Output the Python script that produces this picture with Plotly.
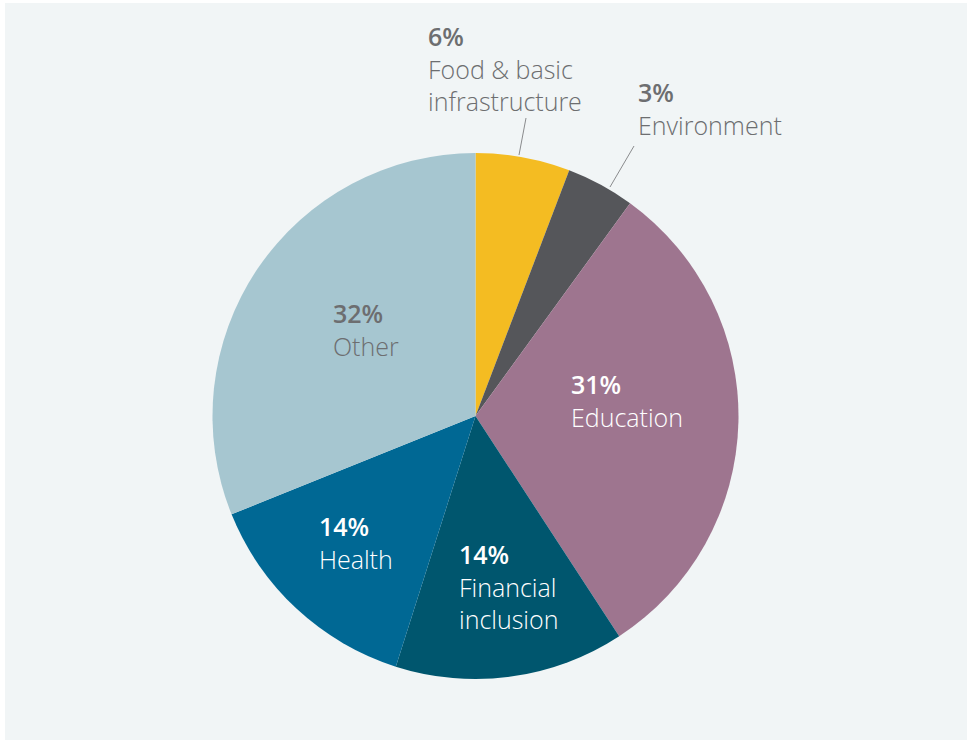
import plotly.graph_objects as go

categories = ["Food & basic<br>infrastructure", "Environment", "Education",
              "Financial<br>inclusion", "Health", "Other"]
# slice sizes
values = [5.8, 4.2, 30.8, 14.1, 14.0, 31.1]
# percentages as printed on the chart
pct_labels = ["6%", "3%", "31%", "14%", "14%", "32%"]
colors = ["#f4bc22", "#55565a", "#9e758f", "#00566e", "#006894", "#a6c6d0"]
text_colors = ["#6d6e70", "#6d6e70", "#ffffff", "#ffffff", "#ffffff", "#6d6e70"]

W, H = 967, 740
# label block anchors (left x, top y in px)
label_pos = [(426, 17), (636, 73), (569, 365), (457, 535), (317, 507), (331, 294)]

FONT = "Open Sans"

fig = go.Figure(go.Pie(
    labels=[c.replace("<br>", " ") for c in categories],
    values=values,
    sort=False,
    direction="clockwise",
    rotation=0,
    marker=dict(colors=colors, line=dict(width=0)),
    textinfo="none",
    hoverinfo="none",
    showlegend=False,
    domain=dict(x=[212 / W, 739 / W], y=[1 - 679 / H, 1 - 153 / H]),
))

annotations = []
for cat, pct, tc, (px, py) in zip(categories, pct_labels, text_colors, label_pos):
    annotations.append(dict(
        x=px / W, y=1 - py / H, xref="paper", yref="paper",
        xanchor="left", yanchor="top", align="left", showarrow=False,
        text=f"<span style='font-weight:600'>{pct}</span><br>{cat}",
        font=dict(family=FONT, size=25, color=tc, weight=300),
    ))

shapes = [
    dict(type="rect", xref="paper", yref="paper", x0=5 / W, x1=1, y0=0, y1=1 - 3 / H,
         fillcolor="#f1f5f6", line=dict(width=0), layer="below"),
    dict(type="line", xref="paper", yref="paper", x0=519 / W, y0=1 - 155 / H,
         x1=526 / W, y1=1 - 118 / H, line=dict(color="#8a8b8d", width=1)),
    dict(type="line", xref="paper", yref="paper", x0=610 / W, y0=1 - 187 / H,
         x1=634 / W, y1=1 - 146 / H, line=dict(color="#8a8b8d", width=1)),
]

fig.update_layout(
    width=W, height=H,
    margin=dict(l=0, r=0, t=0, b=0),
    paper_bgcolor="#ffffff",
    plot_bgcolor="#ffffff",
    annotations=annotations,
    shapes=shapes,
    font=dict(family=FONT),
)

fig.write_html("out.html")
